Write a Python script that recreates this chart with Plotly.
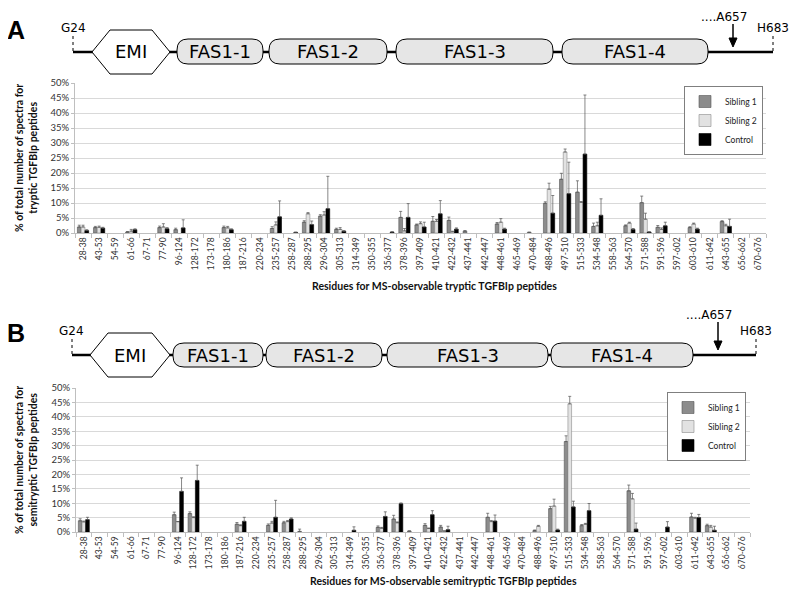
import plotly.graph_objects as go

# peptide residue ranges (same for both panels)
peptides = ["28-38", "43-53", "54-59", "61-66", "67-71", "77-90", "96-124", "128-172",
            "173-178", "180-186", "187-216", "220-234", "235-257", "258-287", "288-295",
            "296-304", "305-313", "314-349", "350-355", "356-377", "378-396", "397-409",
            "410-421", "422-432", "437-441", "442-447", "448-461", "465-469", "470-484",
            "488-496", "497-510", "515-533", "534-548", "558-563", "564-570", "571-588",
            "591-596", "597-602", "603-610", "611-642", "643-655", "656-662", "670-676"]

# panel A - tryptic peptides (% of spectra)
tryp_sib1 = [2.0, 1.8, 0, 0.3, 0, 1.8, 1.1, 0, 0, 1.8, 0, 0, 1.5, 0, 3.6, 5.6, 1.2, 0, 0, 0,
             5.2, 2.7, 3.9, 4.2, 0.6, 0, 3.0, 0, 0.2, 9.9, 17.9, 13.6, 2.2, 0, 2.4, 10.1,
             1.9, 0, 1.8, 0, 3.8, 0, 0]
tryp_sib2 = [2.0, 1.9, 0, 0.6, 0, 2.0, 0, 0, 0, 1.7, 0, 0, 2.7, 0, 6.4, 6.0, 1.2, 0, 0, 0,
             0.7, 3.1, 3.9, 0.4, 0, 0, 3.6, 0, 0, 14.6, 27.0, 10.2, 2.4, 0, 3.3, 4.6,
             1.2, 0, 3.0, 0, 2.4, 0, 0]
tryp_ctrl = [0.8, 1.6, 0, 1.1, 0, 1.4, 1.7, 0, 0, 1.1, 0, 0, 5.4, 0.2, 2.8, 8.1, 0.6, 0, 0, 0.3,
             5.2, 2.0, 6.4, 1.3, 0, 0, 1.3, 0, 0, 6.6, 13.1, 26.3, 5.9, 0, 1.2, 0.3,
             2.4, 0, 1.3, 0, 2.2, 0, 0]
tryp_sib1_err = [0.6, 0.4, 0, 0.2, 0, 0.5, 0.5, 0, 0, 0.5, 0, 0, 0.6, 0, 0.5, 0.5, 0.4, 0, 0, 0,
                 2.0, 0.3, 1.6, 1.1, 0.2, 0, 0.5, 0, 0.1, 0.5, 2.0, 3.8, 1.1, 0, 0.3, 2.2,
                 0.6, 0, 0.3, 0, 0.3, 0, 0]
tryp_sib2_err = [0.6, 0.4, 0, 0.6, 0, 1.1, 0, 0, 0, 0.5, 0, 0, 1.0, 0, 0.4, 1.1, 0.6, 0, 0, 0,
                 0.8, 0.6, 0.6, 0.2, 0, 0, 1.2, 0, 0, 2.0, 1.0, 0.3, 1.2, 0, 0.3, 2.0,
                 0.5, 0, 0.3, 0, 0.5, 0, 0]
tryp_ctrl_err = [0.3, 0.3, 0, 0.3, 0, 0.4, 2.7, 0, 0, 0.3, 0, 0, 5.3, 0.1, 1.2, 10.8, 0.2, 0, 0, 0.1,
                 4.6, 1.6, 4.4, 0.4, 0, 0, 0.3, 0, 0, 5.9, 10.5, 19.7, 5.5, 0, 0.3, 0.1,
                 1.2, 0, 0.3, 0, 2.4, 0, 0]

# panel B - semitryptic peptides (% of spectra)
semi_sib1 = [3.9, 0, 0, 0, 0, 0, 6.0, 6.4, 0, 0, 2.7, 0, 2.3, 3.2, 0.2, 0, 0, 0, 0, 1.6,
             4.5, 0.3, 2.3, 1.7, 0, 0, 5.1, 0, 0, 0.5, 8.1, 31.4, 2.2, 0, 0, 14.3,
             0, 0, 0, 5.2, 2.2, 0, 0]
semi_sib2 = [3.5, 0, 0, 0, 0, 0, 3.6, 5.0, 0, 0, 2.2, 0, 3.1, 3.6, 0, 0, 0, 0, 0, 1.3,
             3.2, 0, 1.2, 0.3, 0, 0, 3.6, 0, 0, 2.0, 9.0, 44.5, 2.7, 0, 0, 11.5,
             0, 0, 0, 4.8, 1.7, 0, 0]
semi_ctrl = [4.3, 0, 0, 0, 0, 0, 14.1, 17.9, 0, 0, 3.7, 0, 5.1, 4.5, 0, 0, 0, 0.6, 0, 5.4,
             9.8, 0, 6.0, 0.8, 0, 0, 3.8, 0, 0, 0, 0.7, 8.7, 7.4, 0, 0, 1.0,
             0, 1.7, 0, 5.0, 0.6, 0, 0]
semi_sib1_err = [0.7, 0, 0, 0, 0, 0, 0.9, 0.6, 0, 0, 0.6, 0, 0.5, 0.5, 0.8, 0, 0, 0, 0, 0.5,
                 1.3, 0.1, 0.6, 0.6, 0, 0, 1.4, 0, 0, 0.2, 0.8, 2.0, 0.4, 0, 0, 2.0,
                 0, 0, 0, 1.3, 0.5, 0, 0]
semi_sib2_err = [0.3, 0, 0, 0, 0, 0, 0, 0.3, 0, 0, 0.3, 0, 0.6, 0.4, 0, 0, 0, 0, 0, 0.3,
                 0.3, 0, 0.2, 0.1, 0, 0, 0.4, 0, 0, 0.3, 2.4, 2.6, 0.3, 0, 0, 1.9,
                 0, 0, 0, 0.3, 0.6, 0, 0]
semi_ctrl_err = [0.8, 0, 0, 0, 0, 0, 4.7, 5.3, 0, 0, 1.4, 0, 5.9, 0.4, 0, 0, 0, 1.2, 0, 1.6,
                 0.3, 0, 1.4, 1.2, 0, 0, 2.1, 0, 0, 0, 0.3, 2.0, 2.5, 0, 0, 2.1,
                 0, 1.9, 0, 1.1, 1.4, 0, 0]

series_names = ["Sibling 1", "Sibling 2", "Control"]
y_ticks = [0, 5, 10, 15, 20, 25, 30, 35, 40, 45, 50]
y_ticktext = [f"{v}%" for v in y_ticks]

# page body has an 8px margin, so the figure is 16px smaller than the window
W, H, OFF = 784, 582, 8


def X(p):
    return (p - OFF) / W


def Y(p):
    return 1 - (p - OFF) / H


def nz(vals):
    return [v if v > 0 else None for v in vals]


fills = ["#8c8c8c", "#e2e2e2", "#000000"]
edges = ["#555555", "#8c8c8c", "#000000"]

fig = go.Figure()

panels = [
    ("x", "y", "legend", [tryp_sib1, tryp_sib2, tryp_ctrl], [tryp_sib1_err, tryp_sib2_err, tryp_ctrl_err]),
    ("x2", "y2", "legend2", [semi_sib1, semi_sib2, semi_ctrl], [semi_sib1_err, semi_sib2_err, semi_ctrl_err]),
]
for xa, ya, lg, vals, errs in panels:
    for i in range(3):
        fig.add_trace(go.Bar(
            x=peptides, y=nz(vals[i]), name=series_names[i], xaxis=xa, yaxis=ya, legend=lg,
            offsetgroup=str(i),
            marker=dict(color=fills[i], line=dict(color=edges[i], width=0.6)),
            error_y=dict(type="data", symmetric=False, array=nz(errs[i]),
                         arrayminus=[0] * len(peptides), color="#555555", thickness=0.7, width=1.5),
        ))

axis_font = dict(family="Lato", size=9.5, color="#333333")
xcommon = dict(type="category", tickangle=-90, tickfont=dict(family="Lato", size=8.5, color="#333333"),
               showline=True, linecolor="#bfbfbf", ticks="outside", tickson="boundaries",
               ticklen=4, tickcolor="#bfbfbf", showgrid=False, automargin=False)
ycommon = dict(range=[0, 50], tickmode="array", tickvals=y_ticks, ticktext=y_ticktext, tickfont=axis_font,
               showline=True, linecolor="#bfbfbf", gridcolor="#d9d9d9", gridwidth=1,
               ticks="outside", ticklen=3, tickcolor="#bfbfbf", zeroline=False, automargin=False)

legend_style = dict(bordercolor="#7f7f7f", borderwidth=1, bgcolor="white",
                    font=dict(family="Lato", size=8.5, color="#222222"),
                    xanchor="right", yanchor="top", tracegroupgap=0, itemwidth=30)

fig.update_layout(
    width=W, height=H,
    margin=dict(l=0, r=0, t=0, b=0, pad=0),
    paper_bgcolor="white", plot_bgcolor="white",
    barmode="group", bargap=0.3, bargroupgap=0,
    xaxis=dict(domain=[X(75), X(766)], anchor="y", **xcommon),
    yaxis=dict(domain=[Y(233), Y(83)], anchor="x", **ycommon),
    xaxis2=dict(domain=[X(76), X(750)], anchor="y2", **xcommon),
    yaxis2=dict(domain=[Y(532), Y(388)], anchor="x2", **ycommon),
    legend=dict(x=X(763), y=Y(86), **legend_style),
    legend2=dict(x=X(746), y=Y(392), **legend_style),
)

# axis titles
title_font = dict(family="Lato", size=10.5, color="#111111")
ann = [
    dict(x=X(26), y=Y(158), text="<b>% of total number of spectra for<br>tryptic TGFBIp peptides</b>",
         textangle=-90),
    dict(x=X(435), y=Y(286), text="<b>Residues for MS-observable tryptic TGFBIp peptides</b>"),
    dict(x=X(26), y=Y(460), text="<b>% of total number of spectra for<br>semitryptic TGFBIp peptides</b>",
         textangle=-90),
    dict(x=X(443), y=Y(581), text="<b>Residues for MS-observable semitryptic TGFBIp peptides</b>"),
]
for a in ann:
    fig.add_annotation(xref="paper", yref="paper", showarrow=False, xanchor="center",
                       yanchor="middle", font=title_font, **a)


def pill(x0, x1, yc, h, r):
    y0, y1 = yc - h / 2, yc + h / 2
    return (f"M {X(x0 + r)},{Y(y0)} L {X(x1 - r)},{Y(y0)} Q {X(x1)},{Y(y0)} {X(x1)},{Y(y0 + r)} "
            f"L {X(x1)},{Y(y1 - r)} Q {X(x1)},{Y(y1)} {X(x1 - r)},{Y(y1)} "
            f"L {X(x0 + r)},{Y(y1)} Q {X(x0)},{Y(y1)} {X(x0)},{Y(y1 - r)} "
            f"L {X(x0)},{Y(y0 + r)} Q {X(x0)},{Y(y0)} {X(x0 + r)},{Y(y0)} Z")


def hexagon(x0, x1, yc, hh, cut):
    pts = [(x0, yc), (x0 + cut, yc - hh), (x1 - cut, yc - hh), (x1, yc), (x1 - cut, yc + hh), (x0 + cut, yc + hh)]
    return "M " + " L ".join(f"{X(a)},{Y(b)}" for a, b in pts) + " Z"


def label(x, y, text, font, **kw):
    fig.add_annotation(xref="paper", yref="paper", x=X(x), y=Y(y), text=text, showarrow=False,
                       xanchor=kw.pop("xanchor", "center"), yanchor="middle", font=font, **kw)


def domain_diagram(letter, yc, g24x, endx, arrowx, hexx, fas, box_top, box_bot):
    # backbone
    fig.add_shape(type="line", xref="paper", yref="paper", x0=X(g24x), x1=X(endx), y0=Y(yc), y1=Y(yc),
                  line=dict(color="black", width=2.5))
    # G24 / H683 dotted ticks
    for xx in (g24x, endx):
        fig.add_shape(type="line", xref="paper", yref="paper", x0=X(xx), x1=X(xx), y0=Y(yc - 16), y1=Y(yc),
                      line=dict(color="black", width=1, dash="dot"))
    # EMI hexagon
    fig.add_shape(type="path", xref="paper", yref="paper", path=hexagon(hexx[0], hexx[1], yc, 22, 18),
                  fillcolor="white", line=dict(color="black", width=1))
    dom_font = dict(family="DejaVu Sans", size=18, color="black")
    label((hexx[0] + hexx[1]) / 2, yc, "EMI", dom_font)
    # FAS1 domains
    for k, (a, b) in enumerate(fas):
        fig.add_shape(type="path", xref="paper", yref="paper",
                      path=pill(a, b, (box_top + box_bot) / 2, box_bot - box_top, 11),
                      fillcolor="#e6e6e6", line=dict(color="black", width=1))
        label((a + b) / 2, (box_top + box_bot) / 2, f"FAS1-{k + 1}", dom_font)
    # cleavage arrow at A657
    label_y = max(yc - 40, 17)
    fig.add_shape(type="line", xref="paper", yref="paper", x0=X(arrowx), x1=X(arrowx), y0=Y(label_y + 7),
                  y1=Y(yc - 12), line=dict(color="black", width=1.5))
    fig.add_shape(type="path", xref="paper", yref="paper",
                  path=f"M {X(arrowx - 4)},{Y(yc - 14)} L {X(arrowx + 4)},{Y(yc - 14)} L {X(arrowx)},{Y(yc - 5)} Z",
                  fillcolor="black", line=dict(color="black", width=1))
    lab = dict(family="DejaVu Sans", size=12, color="black")
    label(g24x, yc - 24, "G24", lab)
    label(endx, yc - 24, "H683", lab)
    label(arrowx + 16, label_y, "....A657", lab, xanchor="right")
    label(16, yc - 22, f"<b>{letter}</b>", dict(family="Liberation Sans", size=25, color="black"))


domain_diagram("A", 52, 73, 773, 733, (92, 170),
               [(177, 263), (269, 387), (396, 553), (562, 708)], 39, 64)
domain_diagram("B", 355, 72, 756, 718, (90, 170),
               [(173, 263), (266, 382), (387, 548), (551, 693)], 343, 367)

fig.write_html("out.html")
